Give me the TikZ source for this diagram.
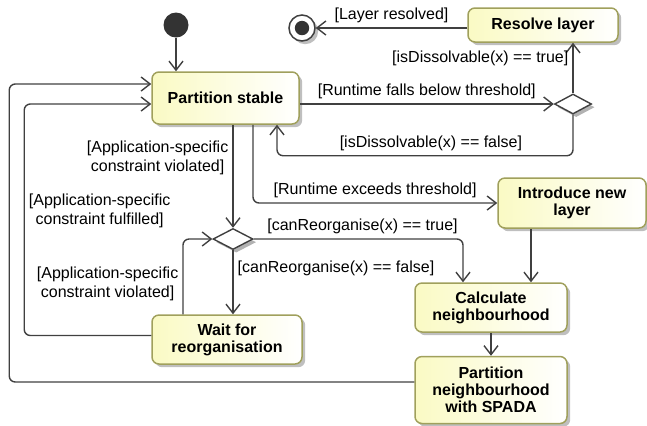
\documentclass[tikz,border=0pt]{standalone}
\usepackage{fontspec}
\setmainfont{Liberation Sans}
\usepackage{tikz}
\usetikzlibrary{shapes.geometric, arrows.meta, shadows}

\definecolor{stateyellow}{RGB}{250,250,196}
\definecolor{stateborder}{RGB}{160,160,92}
\definecolor{linegray}{RGB}{64,64,64}
\definecolor{dotgray}{RGB}{51,51,51}

\begin{document}
\begin{tikzpicture}[
    x=0.5pt, y=-0.5pt,
    state/.style = {rectangle, draw=stateborder, line width=0.75pt, rounded corners=3.5pt, left color=stateyellow, right color=white, drop shadow={shadow xshift=1.6pt, shadow yshift=-1.6pt, fill=black, opacity=0.25}, align=center, inner sep=0pt, font = \fontsize{8}{8.5}\selectfont\bfseries},
    decision/.style = {diamond, draw=linegray, line width=0.7pt, fill=white, inner sep=0pt, drop shadow={shadow xshift=1.6pt, shadow yshift=-1.6pt, fill=black, opacity=0.3}},
    start/.style = {circle, fill=dotgray, inner sep=0pt, minimum size=12.5pt},
    stop/.style = {circle, draw=linegray, line width=0.75pt, fill=white, inner sep=0pt, minimum size=13pt, drop shadow={shadow xshift=1.6pt, shadow yshift=-1.6pt, fill=black, opacity=0.25}, path picture={\fill[dotgray] (path picture bounding box.center) circle (3.6pt);}},
    guard/.style = {align=center, inner sep=2pt, font = \fontsize{8}{9.5}\selectfont},
    flow/.style = {draw=linegray, line width=0.7pt, rounded corners=3pt},
    >={Straight Barb[length=4.5pt, width=7pt]}]

    \useasboundingbox (0,0) rectangle (647,425);

    \node[start] (init) at (176,25) {};
    \node[state, minimum width=73.5pt, minimum height=26pt] (ps) at (225.5,98) {Partition stable};
    \node[state, minimum width=75pt, minimum height=17pt] (resolve) at (543,25) {Resolve layer};
    \node[stop] (final) at (302,28) {};
    \node[decision, minimum width=18.5pt, minimum height=10pt] (dec1) at (573,104) {};
    \node[state, minimum width=74pt, minimum height=25pt] (intro) at (572,203) {Introduce new\\layer};
    \node[decision, minimum width=20pt, minimum height=10.5pt] (dec2) at (233,239) {};
    \node[state, minimum width=75pt, minimum height=24.5pt] (wait) at (227,339.5) {Wait for\\reorganisation};
    \node[state, minimum width=76pt, minimum height=24.5pt] (calc) at (491,307.5) {Calculate\\neighbourhood};
    \node[state, minimum width=76pt, minimum height=33.5pt] (spada) at (491,390) {Partition\\neighbourhood\\with SPADA};

    \draw[flow, ->] (init) -- (init |- ps.north);
    \draw[flow, ->] (ps.east |- dec1.west) -- node[guard, above] {[Runtime falls below threshold]} (dec1.west);
    \draw[flow, ->] (dec1.north) -- node[guard, left, pos=0.7] {[isDissolvable(x) == true]} (dec1.north |- resolve.south);
    \draw[flow, ->] (dec1.south) -- ++(0,41) -| node[guard, above, pos=0.24] {[isDissolvable(x) == false]} ([xshift=25.75pt]ps.south);
    \draw[flow, ->] (final -| resolve.west) -- node[guard, above] {[Layer resolved]} (final);
    \draw[flow, ->] ([xshift=13.75pt]ps.south) |- node[guard, above, pos=0.75] {[Runtime exceeds threshold]} (intro.west);
    \draw[flow, ->] (ps.south -| dec2.north) -- node[guard, left, pos=0.32] {[Application-specific\\constraint violated]} (dec2.north);
    \draw[flow, ->] ([xshift=20pt]calc.north |- intro.south) -- ([xshift=20pt]calc.north);
    \draw[flow, ->] (dec2.east) -| node[guard, above, pos=0.26] {[canReorganise(x) == true]} ([xshift=-14pt]calc.north);
    \draw[flow, ->] (dec2.south) -- node[guard, right, pos=0.29] {[canReorganise(x) == false]} (dec2.south |- wait.north);
    \draw[flow, ->] ([xshift=-22pt]wait.north) |- node[guard, left, pos=0.2] {[Application-specific\\constraint violated]} (dec2.west);
    \draw[flow, ->] ([yshift=2pt]wait.west) -- ++(-127,0) |- node[guard, right, pos=0.27] {[Application-specific\\constraint fulfilled]} ([yshift=-3pt]ps.west);
    \draw[flow, ->] ([yshift=4pt]spada.west) -- ++(-405,0) |- ([yshift=7pt]ps.west);
    \draw[flow, ->] (calc) -- (spada);
\end{tikzpicture}
\end{document}
